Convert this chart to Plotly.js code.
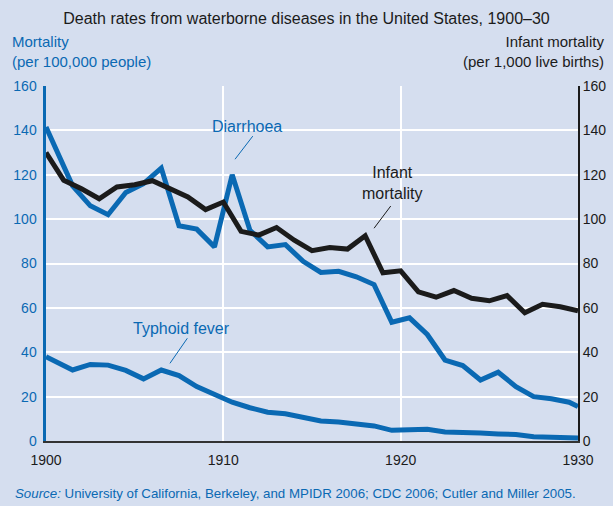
<!DOCTYPE html>
<html>
<head>
<meta charset="utf-8">
<script src="https://cdn.plot.ly/plotly-3.0.1.min.js"></script>
<style>
  html, body { margin: 0; padding: 0; background: #d5deef; }
  #chart { width: 613px; height: 506px; }
</style>
</head>
<body>
<div id="chart"></div>
<script>
// infant mortality is given per calendar year, the two diseases at mid-year
var years = [1900, 1901, 1902, 1903, 1904, 1905, 1906, 1907, 1908, 1909, 1910,
             1911, 1912, 1913, 1914, 1915, 1916, 1917, 1918, 1919, 1920,
             1921, 1922, 1923, 1924, 1925, 1926, 1927, 1928, 1929, 1930];
var midYears = [1900, 1901.5, 1902.5, 1903.5, 1904.5, 1905.5, 1906.5, 1907.5, 1908.5, 1909.5, 1910.5,
                1911.5, 1912.5, 1913.5, 1914.5, 1915.5, 1916.5, 1917.5, 1918.5, 1919.5, 1920.5,
                1921.5, 1922.5, 1923.5, 1924.5, 1925.5, 1926.5, 1927.5, 1928.5, 1929.5, 1930];
var infantMortality = [130, 117.5, 113.7, 109.2, 114.5, 115.5, 117.3, 113.7, 110, 104.3, 107.7,
                       94.5, 92.8, 96.2, 90.5, 85.8, 87.2, 86.5, 92.5, 75.8, 76.7,
                       67.2, 64.8, 67.8, 64.3, 63.2, 65.5, 57.8, 61.6, 60.5, 58.7];
var diarrhoea = [141.5, 115, 106, 102, 112, 116, 123, 97, 95.5, 87.5, 120,
                 95, 87.5, 88.5, 81, 76, 76.5, 74, 70.5, 53.5, 55.5,
                 48, 36.5, 34, 27.5, 31, 24.5, 20, 19, 17.5, 15.5];
var typhoid = [38, 32, 34.5, 34.2, 31.8, 28, 32, 29.5, 24.5, 21.3, 17.5,
               15, 13, 12.3, 10.5, 9, 8.6, 7.8, 6.8, 4.8, 5,
               5.3, 4.1, 3.6, 3.6, 3.2, 2.9, 1.9, 1.8, 1.6, 1.3];
var yTicks = [0, 20, 40, 60, 80, 100, 120, 140, 160];
var xTicks = [1900, 1910, 1920, 1930];

var BLUE = '#0a69b3';
var DARK = '#1b1b1b';
var BG = '#d5deef';
var FONT = 'Liberation Sans, Arial, sans-serif';

var data = [
    {x: midYears, y: typhoid, type: 'scatter', mode: 'lines', name: 'Typhoid fever',
     line: {color: BLUE, width: 5}, hoverinfo: 'skip'},
    {x: midYears, y: diarrhoea, type: 'scatter', mode: 'lines', name: 'Diarrhoea',
     line: {color: BLUE, width: 5}, hoverinfo: 'skip'},
    {x: years, y: infantMortality, type: 'scatter', mode: 'lines', name: 'Infant mortality',
     yaxis: 'y2', line: {color: DARK, width: 5}, hoverinfo: 'skip'}
];

// leader lines from labels to the curves
var leader = function(x0, y0, x1, y1, color) {
    return {type: 'line', xref: 'x', yref: 'y', x0: x0, y0: y0, x1: x1, y1: y1,
            line: {color: color, width: 1}};
};

var layout = {
    width: 613, height: 506,
    paper_bgcolor: BG, plot_bgcolor: BG,
    margin: {l: 46, r: 35, t: 86, b: 65},
    showlegend: false,
    font: {family: FONT, size: 14, color: DARK},
    title: {text: 'Death rates from waterborne diseases in the United States, 1900–30',
            x: 0.5, xanchor: 'center', y: 0.964, yanchor: 'middle',
            font: {family: FONT, size: 16, color: DARK}},
    xaxis: {range: [1900, 1930], tickvals: xTicks, ticktext: xTicks.map(String),
            showgrid: true, gridcolor: '#ffffff', gridwidth: 2,
            zeroline: false, showline: true, linecolor: '#333333', linewidth: 1.5,
            ticks: '', ticklabelstandoff: 6, tickfont: {family: FONT, size: 14, color: DARK}},
    yaxis: {range: [0, 160], tickvals: yTicks, showgrid: true, gridcolor: '#ffffff', gridwidth: 2,
            zeroline: false, showline: true, linecolor: BLUE, linewidth: 3.5,
            ticks: '', ticklabelstandoff: 3, tickfont: {family: FONT, size: 14, color: BLUE}},
    yaxis2: {range: [0, 160], tickvals: yTicks, overlaying: 'y', side: 'right',
             showgrid: false, zeroline: false, showline: true, linecolor: DARK, linewidth: 2,
             ticks: '', tickfont: {family: FONT, size: 14, color: DARK}},
    shapes: [
        leader(1911.66, 137.4, 1910.66, 127, BLUE),
        leader(1919.44, 105.9, 1918.5, 95.9, DARK),
        leader(1907.97, 46.3, 1906.99, 35, BLUE)
    ],
    annotations: [
        {text: 'Mortality<br>(per 100,000 people)', xref: 'paper', yref: 'paper',
         x: -0.068, y: 1.155, xanchor: 'left', yanchor: 'top', align: 'left', showarrow: false,
         font: {family: FONT, size: 15, color: BLUE}},
        {text: 'Infant mortality<br>(per 1,000 live births)', xref: 'paper', yref: 'paper',
         x: 1.052, y: 1.155, xanchor: 'right', yanchor: 'top', align: 'right', showarrow: false,
         font: {family: FONT, size: 15, color: DARK}},
        {text: 'Diarrhoea', xref: 'x', yref: 'y', x: 1911.33, y: 141.9,
         xanchor: 'center', yanchor: 'middle', showarrow: false,
         font: {family: FONT, size: 16, color: BLUE}},
        {text: 'Infant<br>mortality', xref: 'x', yref: 'y', x: 1919.5, y: 116.3,
         xanchor: 'center', yanchor: 'middle', showarrow: false,
         font: {family: FONT, size: 16, color: DARK}},
        {text: 'Typhoid fever', xref: 'x', yref: 'y', x: 1907.65, y: 50.8,
         xanchor: 'center', yanchor: 'middle', showarrow: false,
         font: {family: FONT, size: 16, color: BLUE}},
        {text: '<i>Source:</i> University of California, Berkeley, and MPIDR 2006; CDC 2006; Cutler and Miller 2005.',
         xref: 'paper', yref: 'paper', x: -0.062, y: -0.148, xanchor: 'left', yanchor: 'middle',
         showarrow: false, font: {family: FONT, size: 13.3, color: BLUE}}
    ]
};

Plotly.newPlot('chart', data, layout, {displayModeBar: false, staticPlot: true});
</script>
</body>
</html>
